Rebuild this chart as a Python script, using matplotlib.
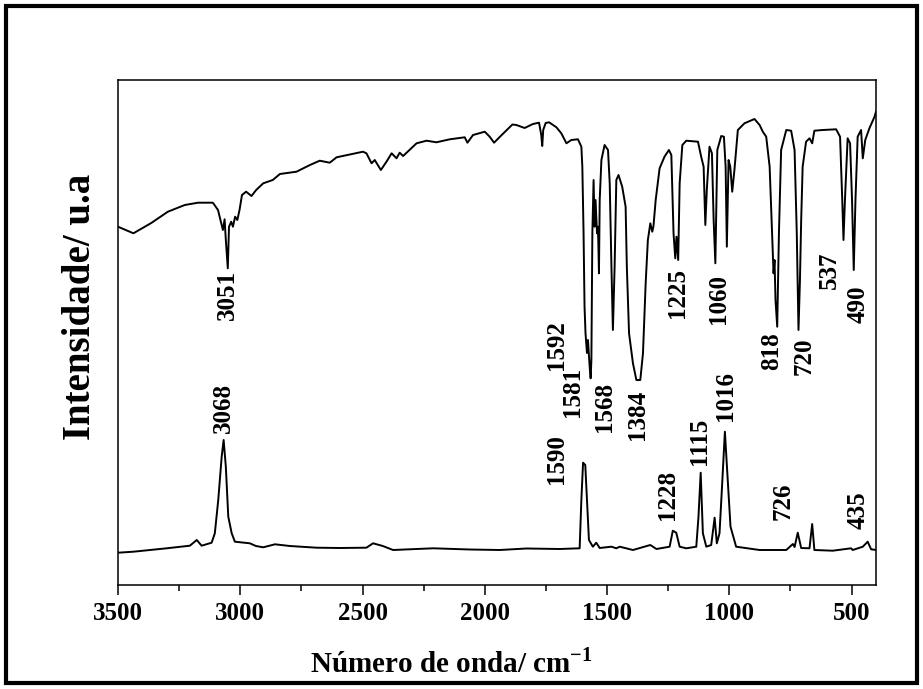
import matplotlib
matplotlib.use("Agg")
import matplotlib.pyplot as plt
from matplotlib.patches import Rectangle

plt.rcParams['font.family'] = ['Liberation Serif', 'DejaVu Serif']
plt.rcParams['font.weight'] = 'bold'
plt.rcParams['mathtext.fontset'] = 'custom'
plt.rcParams['mathtext.rm'] = 'Liberation Serif:bold'

# IR (top) spectrum (a.u.)
ir_wn = [3500, 3437, 3364, 3296, 3227, 3173, 3112, 3091, 3078, 3071, 3064, 3059,
         3051, 3046, 3037, 3030, 3021, 3012, 3003, 2993, 2976, 2954, 2935, 2906,
         2867, 2838, 2770, 2715, 2675, 2634, 2606, 2498, 2484, 2463, 2450, 2425,
         2402, 2381, 2361, 2348, 2334, 2279, 2238, 2198, 2143, 2082, 2071, 2048,
         2000, 1980, 1962, 1939, 1912, 1887, 1871, 1837, 1803, 1778, 1769, 1765,
         1761, 1751, 1737, 1707, 1687, 1666, 1646, 1619, 1605, 1601, 1596, 1592,
         1588, 1582, 1578, 1571, 1567, 1564, 1560, 1555, 1551, 1547, 1541, 1537,
         1533, 1530, 1523, 1510, 1496, 1489, 1482, 1476, 1469, 1462, 1453, 1438,
         1424, 1419, 1410, 1394, 1380, 1364, 1353, 1342, 1333, 1323, 1315, 1310,
         1301, 1285, 1265, 1247, 1237, 1228, 1221, 1216, 1209, 1203, 1192, 1176,
         1128, 1115, 1105, 1098, 1092, 1081, 1071, 1064, 1057, 1049, 1033, 1022,
         1015, 1010, 1003, 996, 988, 979, 965, 938, 897, 876, 863, 849,
         835, 824, 819, 815, 811, 804, 797, 788, 767, 747, 733, 724,
         717, 711, 706, 700, 686, 672, 661, 652, 618, 563, 547, 538,
         533, 527, 516, 506, 498, 491, 484, 475, 461, 454, 444, 427,
         406, 400]
ir_int = [358.3, 351.7, 362, 373.3, 380, 382.3, 382.3, 375, 362, 355, 365.7, 345,
          316.7, 358.3, 363.3, 358.3, 368.3, 365, 375, 390, 393.3, 389, 395, 401.7,
          405, 411, 413.3, 420, 424.3, 422.3, 427.7, 433.3, 431.7, 421.7, 425, 415,
          423.3, 431.7, 426.7, 432.3, 429, 441.7, 444.3, 442.7, 445.7, 447.7, 442.3, 450,
          453.3, 448.3, 442.3, 448, 454.5, 460.5, 460, 457, 461, 462.3, 450, 439,
          455, 462, 462.7, 457.7, 451.7, 441.7, 445, 445.7, 438.3, 418.3, 352, 278.3,
          251.7, 232, 245, 218.3, 206.7, 225, 352, 405, 358.3, 385, 351.7, 358.3,
          311.7, 385, 425, 440, 435, 401.7, 318.3, 255, 318.3, 405, 410, 398.3,
          378.3, 318.3, 251.7, 221.7, 205, 205, 231.7, 301.7, 345, 361.7, 353.3, 359,
          385, 416.7, 428.3, 435, 430, 351.7, 326.7, 348.3, 325, 401.7, 440, 444.3,
          443.3, 428.3, 418.3, 360, 395, 438.3, 431.7, 365, 321.7, 435, 449, 448.3,
          418.3, 338.3, 425, 418.3, 393.3, 415, 455, 461.7, 466, 460, 453.3, 448.3,
          418.3, 345, 311.7, 325, 285, 258.3, 351.7, 435, 455, 454.3, 435, 351.7,
          255, 305, 365, 418.3, 443.3, 446.7, 441.7, 454.3, 455, 455.7, 448.3, 385,
          345, 385, 446.7, 441.7, 385, 315, 385, 448.3, 455, 426.7, 445, 456.7,
          468.3, 473.3]

# Raman (bottom) spectrum
raman_wn = [3500, 3437, 3301, 3206, 3178, 3158, 3117, 3104, 3090, 3076, 3068, 3059,
            3049, 3035, 3022, 2961, 2936, 2906, 2858, 2797, 2688, 2593, 2484, 2457,
            2417, 2375, 2211, 2061, 1939, 1830, 1694, 1612, 1605, 1598, 1589, 1582,
            1574, 1558, 1544, 1530, 1482, 1462, 1448, 1394, 1323, 1298, 1244, 1231,
            1217, 1203, 1176, 1135, 1126, 1117, 1108, 1094, 1074, 1060, 1051, 1040,
            1029, 1018, 1008, 995, 972, 876, 767, 740, 733, 720, 706, 672,
            661, 652, 577, 502, 495, 454, 434, 420, 398]
raman_int = [32.3, 33.3, 36.7, 39.3, 45, 39.3, 42.3, 51.7, 85, 128.3, 145, 118.3,
             68.3, 51.7, 43.3, 41.7, 39, 37.7, 40.7, 39, 37.3, 37, 37.3, 41.7,
             39, 35, 36.7, 35.5, 35, 36.5, 36, 36.7, 85, 122.3, 120, 85,
             45, 38.3, 42.3, 37, 38.3, 36.7, 38.3, 35, 40, 36, 38.3, 54.3,
             52.3, 38.3, 36.7, 38.3, 68.3, 112.3, 51.7, 38.3, 40, 67.3, 41.7, 51.7,
             101.7, 153.3, 111.7, 58.3, 38.3, 35, 35, 41, 38, 52.3, 37, 36.7,
             61, 35, 34.3, 36.7, 35, 38.3, 43.3, 35.7, 35]

# peak labels
ir_labels = ['3051', '1592', '1581', '1568', '1384', '1225', '1060', '818', '720', '537', '490']
ir_label_x = [3051, 1705, 1643, 1510, 1374, 1213, 1044, 825, 692, 590, 475]
ir_label_y = [290, 240, 193, 178, 170, 292, 286, 234, 228.5, 315, 281]
raman_labels = ['3068', '1590', '1228', '1115', '1016', '726', '435']
raman_label_x = [3067, 1707, 1254, 1120, 1016, 778, 475]
raman_label_y = [177.5, 126, 90, 144, 189, 84, 75]

fig = plt.figure(figsize=(9.23, 6.89), dpi=100)
ax = fig.add_axes([118 / 923, 1 - 585 / 689, 758 / 923, 505 / 689])

ax.plot(ir_wn, ir_int, color='black', lw=1.4)
ax.plot(raman_wn, raman_int, color='black', lw=1.4)

for t, x, y in zip(ir_labels, ir_label_x, ir_label_y):
    ax.text(x, y, t, rotation=90, ha='center', va='center', fontsize=18, fontweight='bold')
for t, x, y in zip(raman_labels, raman_label_x, raman_label_y):
    ax.text(x, y, t, rotation=90, ha='center', va='center', fontsize=18, fontweight='bold')

ax.set_xlim(3500, 400)
ax.set_ylim(0, 505)
ax.set_xticks([3500, 3000, 2500, 2000, 1500, 1000, 500])
ax.set_xticks([3250, 2750, 2250, 1750, 1250, 750], minor=True)
ax.tick_params(axis='x', which='major', direction='out', length=7, width=1.1,
               labelsize=18, pad=5)
ax.tick_params(axis='x', which='minor', direction='out', length=4, width=1.1)
ax.set_yticks([])
for s in ax.spines.values():
    s.set_linewidth(1.1)
for lab in ax.get_xticklabels():
    lab.set_fontweight('bold')

fig.text(80 / 923, 1 - 307 / 689, 'Intensidade/ u.a', rotation=90, ha='center',
         va='center', fontsize=28, fontweight='bold')
fig.text(451 / 923, 1 - 663 / 689, 'Número de onda/ cm$^{-1}$', ha='center',
         va='center', fontsize=21, fontweight='bold')

fig.patches.append(Rectangle((6 / 923, 6 / 689), 911 / 923, 677 / 689,
                             transform=fig.transFigure, fill=False,
                             edgecolor='black', linewidth=3))

fig.savefig('out.png', dpi=100)
